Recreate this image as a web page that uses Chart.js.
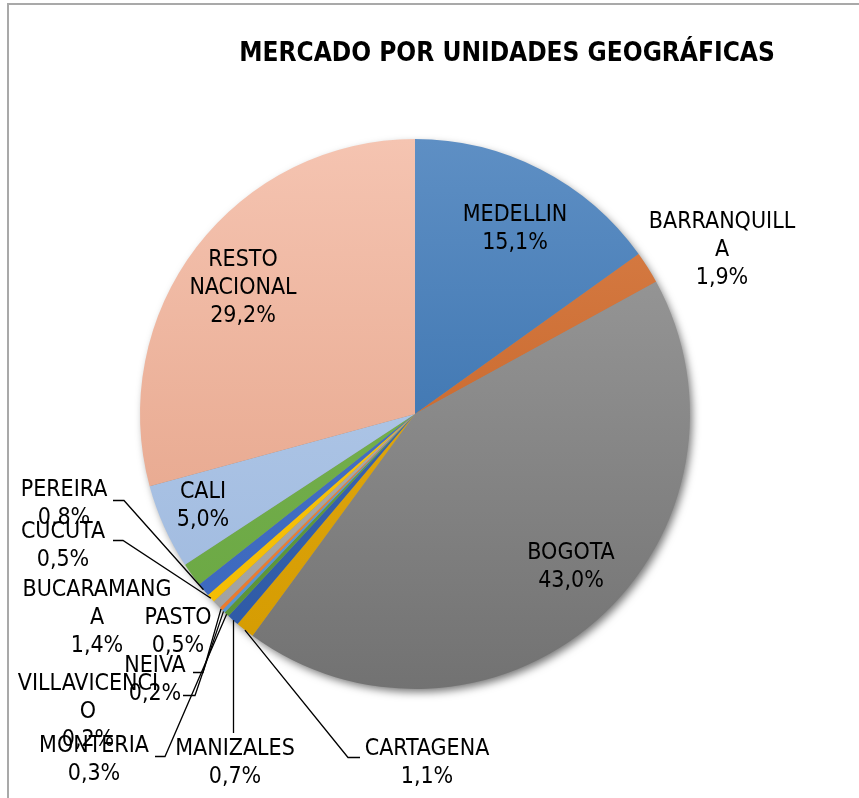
<!DOCTYPE html>
<html lang="es">
<head>
    <meta charset="UTF-8">
    <title>Mercado por unidades geográficas</title>
    <style>
        html, body {
            margin: 0;
            padding: 0;
            background: #ffffff;
            overflow: hidden;
        }
        #wrap {
            position: relative;
            width: 859px;
            height: 798px;
            overflow: hidden;
        }
        #frame {
            position: absolute;
            left: 7px;
            top: 3px;
            width: 900px;
            height: 900px;
            border-top: 2px solid #a9a9a9;
            border-left: 2px solid #a9a9a9;
        }
        #title {
            position: absolute;
            left: 207px;
            width: 600px;
            top: 37px;
            margin: 0;
            text-align: center;
            font: bold 26px "DejaVu Sans Condensed", "DejaVu Sans", sans-serif;
            line-height: 30px;
            color: #000000;
        }
        canvas {
            position: absolute;
            left: 0;
            top: 0;
        }
    </style>
</head>
<body>
<div id="wrap">
    <div id="frame"></div>
    <canvas id="pie" width="859" height="798"></canvas>
    <h1 id="title">MERCADO POR UNIDADES GEOGRÁFICAS</h1>
</div>

<script src="https://cdn.jsdelivr.net/npm/chart.js"></script>
<script>
    // datos (porcentaje del mercado, en sentido horario desde arriba)
    const cities = [
        "MEDELLIN", "BARRANQUILLA", "BOGOTA", "CARTAGENA", "MANIZALES",
        "MONTERIA", "VILLAVICENCIO", "NEIVA", "PASTO", "CUCUTA",
        "PEREIRA", "BUCARAMANGA", "CALI", "RESTO NACIONAL"
    ];
    const shares = [15.1, 1.9, 43.0, 1.1, 0.7, 0.3, 0.2, 0.2, 0.5, 0.5, 0.8, 1.4, 5.0, 29.2];

    // colores: degradado vertical, arriba -> abajo
    const topColors = [
        "#5e8fc4", "#d9804a", "#a0a0a0", "#e6ad1a", "#4670b5", "#6aa54a", "#68a4d9",
        "#f08a42", "#b0b0b0", "#fac81a", "#5079c8", "#7cb656", "#bad0ed", "#f5c4b1"
    ];
    const bottomColors = [
        "#2864a4", "#bf5a1a", "#727272", "#d49b00", "#2c58a5", "#589236", "#5594ce",
        "#ea782a", "#a0a0a0", "#f3bb00", "#3966bd", "#69a641", "#9cb7dd", "#e29d81"
    ];

    // posición de cada etiqueta respecto al centro del pastel (px) y línea guía
    // lead: [dx del punto de enganche, dy, largo del tramo horizontal] o 'top'
    const labelLayout = [
        { dx: 100, dy: -185 },
        { dx: 307, dy: -164 },
        { dx: 156, dy: 153 },
        { dx: 12, dy: 349, lead: [-67, -6, -12] },
        { dx: -180, dy: 349, lead: 'top' },
        { dx: -321, dy: 346, lead: [61, -4, 10] },
        { dx: -327, dy: 298, lead: [95, -17, 12] },
        { dx: -260, dy: 266, lead: [38, -8, 10] },
        { dx: -237, dy: 218 },
        { dx: -352, dy: 132, lead: [50, -6, 10] },
        { dx: -351, dy: 90, lead: [49, -4, 11] },
        { dx: -318, dy: 204 },
        { dx: -212, dy: 92 },
        { dx: -172, dy: -126 }
    ];

    const labelFont = '23px "DejaVu Sans Condensed", "DejaVu Sans", sans-serif';
    const lineH = 28;
    const labelMaxWidth = 152;

    function fmtPct(v) {
        return v.toFixed(1).replace('.', ',') + '%';
    }

    // partir el texto como lo hace Excel: por palabras y, si no cabe, por letras
    function wrapText(ctx, text, maxW) {
        const out = [];
        let cur = '';
        text.split(' ').forEach(word => {
            const test = cur ? cur + ' ' + word : word;
            if (ctx.measureText(test).width <= maxW) {
                cur = test;
                return;
            }
            if (cur) out.push(cur);
            cur = '';
            for (const ch of word) {
                if (cur && ctx.measureText(cur + ch).width > maxW) {
                    out.push(cur);
                    cur = ch;
                } else {
                    cur += ch;
                }
            }
        });
        if (cur) out.push(cur);
        return out;
    }

    const shadowPlugin = {
        id: 'pieShadow',
        beforeDatasetsDraw(chart) {
            const arc = chart.getDatasetMeta(0).data[0];
            if (!arc) return;
            const p = arc.getProps(['x', 'y', 'outerRadius'], true);
            const ctx = chart.ctx;
            ctx.save();
            ctx.shadowColor = 'rgba(0,0,0,0.55)';
            ctx.shadowBlur = 8;
            ctx.shadowOffsetX = 3;
            ctx.shadowOffsetY = 4;
            ctx.beginPath();
            ctx.arc(p.x, p.y, p.outerRadius - 1, 0, Math.PI * 2);
            ctx.fillStyle = '#8a8a8a';
            ctx.fill();
            ctx.restore();
        }
    };

    const labelPlugin = {
        id: 'sliceLabels',
        afterDatasetsDraw(chart) {
            const ctx = chart.ctx;
            const meta = chart.getDatasetMeta(0);
            ctx.save();
            ctx.font = labelFont;
            ctx.textAlign = 'center';
            ctx.textBaseline = 'middle';

            const blocks = meta.data.map((arc, i) => {
                const p = arc.getProps(['x', 'y', 'startAngle', 'endAngle', 'outerRadius'], true);
                const lay = labelLayout[i];
                const lines = wrapText(ctx, cities[i], labelMaxWidth).concat(fmtPct(shares[i]));
                return { p, lay, lines, cx: p.x + lay.dx, cy: p.y + lay.dy };
            });

            // líneas guía primero
            ctx.strokeStyle = '#000000';
            ctx.lineWidth = 1.3;
            blocks.forEach(b => {
                if (!b.lay.lead) return;
                const mid = (b.p.startAngle + b.p.endAngle) / 2;
                const ex = b.p.x + Math.cos(mid) * b.p.outerRadius;
                const ey = b.p.y + Math.sin(mid) * b.p.outerRadius;
                ctx.beginPath();
                if (b.lay.lead === 'top') {
                    const top = b.cy - b.lines.length * lineH / 2;
                    ctx.moveTo(Math.round(ex) + 0.5, ey);
                    ctx.lineTo(Math.round(ex) + 0.5, top - 2);
                } else {
                    const ax = b.cx + b.lay.lead[0];
                    const ay = Math.round(b.cy + b.lay.lead[1]) + 0.5;
                    const bx = ax + b.lay.lead[2];
                    ctx.moveTo(ax, ay);
                    ctx.lineTo(bx, ay);
                    ctx.lineTo(ex, ey);
                }
                ctx.stroke();
            });

            ctx.fillStyle = '#000000';
            blocks.forEach(b => {
                const top = b.cy - b.lines.length * lineH / 2;
                b.lines.forEach((t, k) => {
                    ctx.fillText(t, b.cx, top + lineH * (k + 0.5));
                });
            });
            ctx.restore();
        }
    };

    const chart = new Chart(document.getElementById('pie'), {
        type: 'pie',
        data: {
            labels: cities,
            datasets: [{
                data: shares,
                backgroundColor: c => {
                    const area = c.chart.chartArea;
                    const i = c.dataIndex;
                    if (!area) return bottomColors[i];
                    const g = c.chart.ctx.createLinearGradient(0, area.top, 0, area.bottom);
                    g.addColorStop(0, topColors[i]);
                    g.addColorStop(1, bottomColors[i]);
                    return g;
                },
                borderWidth: 0
            }]
        },
        options: {
            responsive: false,
            animation: false,
            layout: {
                padding: { left: 140, right: 169, top: 139, bottom: 109 }
            },
            plugins: {
                legend: { display: false },
                tooltip: { enabled: false },
                title: { display: false }
            }
        },
        plugins: [shadowPlugin, labelPlugin]
    });
</script>
</body>
</html>
